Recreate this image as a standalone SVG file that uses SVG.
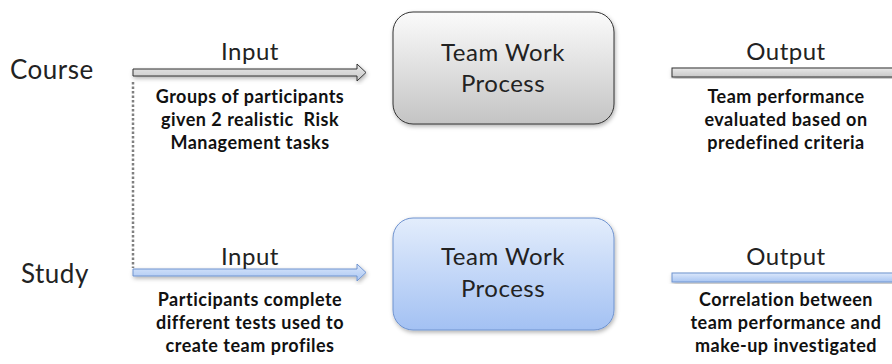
<svg xmlns="http://www.w3.org/2000/svg" width="892" height="364" viewBox="0 0 892 364">
<defs>
<linearGradient id="gGrey" x1="0" y1="0" x2="0" y2="1"><stop offset="0" stop-color="#fbfbfb"/><stop offset="1" stop-color="#c4c4c4"/></linearGradient>
<linearGradient id="gBlue" x1="0" y1="0" x2="0" y2="1"><stop offset="0" stop-color="#e3edfc"/><stop offset="1" stop-color="#a3c1f3"/></linearGradient>
<linearGradient id="gArrGrey" x1="0" y1="0" x2="0" y2="1"><stop offset="0" stop-color="#e8e8e8"/><stop offset="1" stop-color="#c8c8c8"/></linearGradient>
<linearGradient id="gArrBlue" x1="0" y1="0" x2="0" y2="1"><stop offset="0" stop-color="#dce8fb"/><stop offset="1" stop-color="#a8c5f2"/></linearGradient>
<filter id="sh" x="-10%" y="-10%" width="120%" height="130%"><feDropShadow dx="1" dy="2" stdDeviation="2" flood-color="#000" flood-opacity="0.3"/></filter>
</defs>
<style>
text{font-family:Lato,"Open Sans","Liberation Sans",sans-serif;fill:#222}
.big{font-size:24px;letter-spacing:0.5px;text-anchor:middle}
.lbl{font-size:26px;letter-spacing:0.5px}
.sub{font-size:18px;letter-spacing:0.5px;font-weight:bold;text-anchor:middle;fill:#111}
.ag{fill:url(#gArrGrey);stroke:#333;stroke-width:1}
.ab{fill:url(#gArrBlue);stroke:#6f93cf;stroke-width:1}
</style>
<g id="connectors">
<line x1="133" y1="82" x2="133" y2="268" stroke="#808080" stroke-width="2.5" stroke-dasharray="2.5,2"/>
<path class="ag" filter="url(#sh)" d="M133,69 H357 V64 L366,72.5 L357,81 V76 H133 Z"/>
<path class="ab" filter="url(#sh)" d="M133,269 H357 V264 L366,272.5 L357,281 V276 H133 Z"/>
<rect class="ag" filter="url(#sh)" x="672" y="68" width="230" height="9"/>
<rect class="ab" filter="url(#sh)" x="672" y="273" width="230" height="9"/>
</g>
<g id="course">
<text class="lbl" x="10" y="79">Course</text>
</g>
<g id="study">
<text class="lbl" x="21" y="283">Study</text>
</g>
<g id="course-input">
<text class="big" x="250" y="60">Input</text>
<text class="sub" x="250" y="103">Groups of participants</text>
<text class="sub" x="250" y="126" xml:space="preserve">given 2 realistic  Risk</text>
<text class="sub" x="250" y="149">Management tasks</text>
</g>
<g id="course-process">
<rect x="393" y="12" width="221" height="112" rx="20" fill="url(#gGrey)" stroke="#333" stroke-width="1" filter="url(#sh)"/>
<text class="big" x="503" y="61">Team Work</text>
<text class="big" x="503" y="92">Process</text>
</g>
<g id="course-output">
<text class="big" x="786" y="60">Output</text>
<text class="sub" x="786" y="103">Team performance</text>
<text class="sub" x="786" y="126">evaluated based on</text>
<text class="sub" x="786" y="149">predefined criteria</text>
</g>
<g id="study-input">
<text class="big" x="250" y="265">Input</text>
<text class="sub" x="250" y="306">Participants complete</text>
<text class="sub" x="250" y="329">different tests used to</text>
<text class="sub" x="250" y="352">create team profiles</text>
</g>
<g id="study-process">
<rect x="393" y="218" width="221" height="112" rx="20" fill="url(#gBlue)" stroke="#6f93cf" stroke-width="1" filter="url(#sh)"/>
<text class="big" x="503" y="265">Team Work</text>
<text class="big" x="503" y="297">Process</text>
</g>
<g id="study-output">
<text class="big" x="786" y="265">Output</text>
<text class="sub" x="786" y="306">Correlation between</text>
<text class="sub" x="786" y="329">team performance and</text>
<text class="sub" x="786" y="352">make-up investigated</text>
</g>
</svg>
